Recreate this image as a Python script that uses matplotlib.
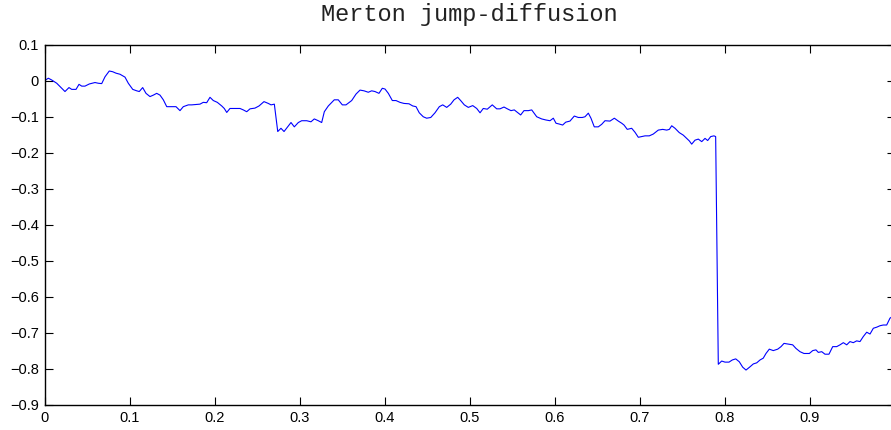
import numpy as np
import matplotlib
matplotlib.use('Agg')
import matplotlib.pyplot as plt

# sample path of a Merton jump-diffusion process
t = [0.0, 0.0045, 0.0085, 0.0144, 0.0191, 0.0241, 0.0288, 0.032, 0.0371, 0.0406,
     0.0438, 0.0476, 0.0527, 0.0594, 0.0633, 0.0673, 0.0712, 0.0762, 0.0802, 0.0841,
     0.0888, 0.0947, 0.0986, 0.1038, 0.1085, 0.1115, 0.1155, 0.1194, 0.1241, 0.128,
     0.132, 0.1359, 0.1398, 0.1438, 0.1496, 0.1547, 0.1594, 0.1633, 0.1692, 0.1732,
     0.1829, 0.1868, 0.1908, 0.1947, 0.1986, 0.2033, 0.2085, 0.2115, 0.2144, 0.2182,
     0.2241, 0.23, 0.2339, 0.2379, 0.2418, 0.2476, 0.2524, 0.2582, 0.2633, 0.2665,
     0.2704, 0.2744, 0.2782, 0.2818, 0.2861, 0.29, 0.2939, 0.2986, 0.3026, 0.3085,
     0.3135, 0.3174, 0.3221, 0.3261, 0.3292, 0.3339, 0.3409, 0.3456, 0.3504, 0.3547,
     0.3614, 0.3665, 0.3712, 0.3759, 0.3809, 0.3849, 0.3888, 0.3935, 0.3974, 0.4006,
     0.4045, 0.4092, 0.4135, 0.4182, 0.4229, 0.4288, 0.4332, 0.4371, 0.4409, 0.4456,
     0.4496, 0.4544, 0.4594, 0.4645, 0.4685, 0.4732, 0.4779, 0.4818, 0.4861, 0.4896,
     0.4939, 0.4986, 0.5038, 0.5085, 0.5124, 0.5162, 0.5209, 0.5268, 0.532, 0.5359,
     0.5406, 0.5445, 0.5488, 0.5527, 0.5574, 0.5602, 0.5641, 0.5692, 0.5732, 0.5791,
     0.5849, 0.59, 0.5947, 0.5986, 0.6018, 0.6053, 0.6096, 0.6132, 0.6182, 0.6233,
     0.628, 0.6327, 0.6359, 0.6398, 0.6429, 0.6468, 0.6515, 0.6555, 0.6594, 0.6653,
     0.6704, 0.6751, 0.6791, 0.6818, 0.6856, 0.6908, 0.6947, 0.6986, 0.7026, 0.7065,
     0.7115, 0.7162, 0.7221, 0.7273, 0.732, 0.7351, 0.7379, 0.7418, 0.7468, 0.7515,
     0.7555, 0.7586, 0.7614, 0.7653, 0.7692, 0.7732, 0.7771, 0.7802, 0.7838, 0.7876,
     0.7896, 0.7927, 0.7967, 0.8006, 0.8053, 0.8092, 0.8132, 0.8174, 0.8214, 0.8253,
     0.83, 0.8339, 0.8379, 0.8418, 0.8456, 0.8488, 0.8527, 0.8574, 0.8626, 0.8665,
     0.87, 0.8751, 0.8802, 0.8841, 0.8888, 0.8935, 0.8998, 0.9038, 0.9076, 0.9104,
     0.9144, 0.9182, 0.9229, 0.9273, 0.932, 0.9359, 0.9398, 0.9438, 0.9476, 0.9515,
     0.9555, 0.9594, 0.9633, 0.9673, 0.9712, 0.9751, 0.9791, 0.9829, 0.9868, 0.9908,
     0.9947, 1.0]

X = [0.0, 0.007, 0.002, -0.007, -0.018, -0.030, -0.019, -0.024, -0.024, -0.010,
     -0.015, -0.015, -0.009, -0.005, -0.007, -0.008, 0.011, 0.027, 0.025, 0.021,
     0.018, 0.010, -0.007, -0.024, -0.028, -0.030, -0.019, -0.035, -0.044, -0.040,
     -0.035, -0.040, -0.053, -0.072, -0.072, -0.072, -0.083, -0.072, -0.067, -0.067,
     -0.065, -0.060, -0.061, -0.046, -0.055, -0.060, -0.070, -0.077, -0.088, -0.077,
     -0.077, -0.077, -0.081, -0.086, -0.078, -0.076, -0.070, -0.058, -0.063, -0.067,
     -0.065, -0.141, -0.132, -0.141, -0.128, -0.116, -0.128, -0.116, -0.111, -0.111,
     -0.114, -0.106, -0.111, -0.116, -0.086, -0.070, -0.053, -0.053, -0.067, -0.067,
     -0.055, -0.037, -0.026, -0.028, -0.032, -0.028, -0.030, -0.035, -0.021, -0.023,
     -0.035, -0.055, -0.055, -0.060, -0.063, -0.064, -0.070, -0.072, -0.089, -0.100,
     -0.104, -0.102, -0.089, -0.072, -0.067, -0.074, -0.065, -0.053, -0.046, -0.055,
     -0.067, -0.074, -0.069, -0.077, -0.089, -0.077, -0.079, -0.067, -0.078, -0.078,
     -0.073, -0.078, -0.083, -0.081, -0.090, -0.095, -0.083, -0.083, -0.081, -0.100,
     -0.106, -0.109, -0.111, -0.104, -0.118, -0.120, -0.123, -0.115, -0.112, -0.098,
     -0.102, -0.102, -0.100, -0.090, -0.104, -0.128, -0.128, -0.121, -0.111, -0.112,
     -0.104, -0.112, -0.118, -0.123, -0.135, -0.132, -0.143, -0.157, -0.155, -0.153,
     -0.153, -0.148, -0.137, -0.135, -0.137, -0.135, -0.125, -0.132, -0.144, -0.151,
     -0.160, -0.167, -0.176, -0.165, -0.162, -0.169, -0.160, -0.166, -0.155, -0.153,
     -0.155, -0.787, -0.778, -0.781, -0.781, -0.775, -0.772, -0.780, -0.795, -0.803,
     -0.794, -0.786, -0.783, -0.775, -0.770, -0.757, -0.745, -0.749, -0.745, -0.738,
     -0.729, -0.731, -0.733, -0.743, -0.752, -0.757, -0.757, -0.749, -0.747, -0.754,
     -0.752, -0.759, -0.759, -0.738, -0.738, -0.733, -0.727, -0.733, -0.724, -0.727,
     -0.722, -0.724, -0.710, -0.698, -0.703, -0.687, -0.684, -0.680, -0.678, -0.678,
     -0.659, -0.650]

xticks = np.arange(0, 0.95, 0.1)
yticks = np.arange(-0.9, 0.15, 0.1)

plt.rcParams['font.family'] = ['Liberation Sans', 'DejaVu Sans']

fig = plt.figure(figsize=(8.91, 4.30), dpi=100)
ax = fig.add_axes([44.5 / 891, 25 / 430, 850 / 891, 360.3 / 430])
ax.plot(t, X, color='#0000ff', linewidth=0.8)

ax.set_xlim(0, 1)
ax.set_ylim(-0.9, 0.1)
ax.set_xticks(xticks)
ax.set_xticklabels(['0' if v == 0 else f'{v:.1f}' for v in xticks])
ax.set_yticks(yticks)
ax.set_yticklabels(['0' if abs(v) < 1e-9 else f'{v:.1f}'.replace('-', '\u2212') for v in yticks])
ax.tick_params(direction='in', length=6, width=0.8, top=True, right=True,
               labelsize=10.5, pad=4)
for s in ax.spines.values():
    s.set_linewidth(1.0)

fig.text(0.527, 0.993, 'Merton jump-diffusion', family='Liberation Mono',
         fontsize=17, ha='center', va='top', color='#222222')

fig.savefig('out.png', dpi=100)
